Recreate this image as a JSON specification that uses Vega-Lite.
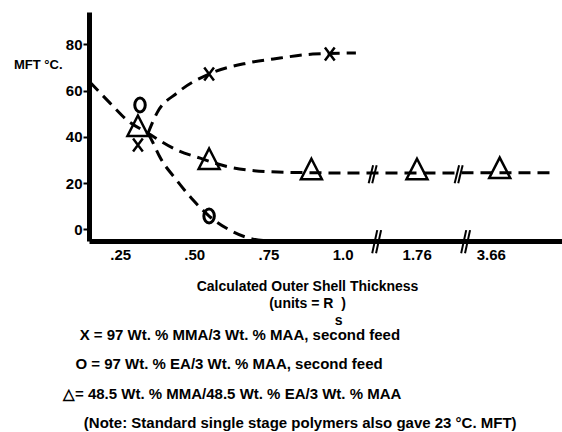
{
  "$schema": "https://vega.github.io/schema/vega-lite/v6.json",
  "width": 473,
  "height": 229,
  "autosize": {"type": "none"},
  "padding": {"left": 89, "top": 12, "right": 0, "bottom": 191},
  "background": "white",
  "config": {"view": {"stroke": null}, "font": "Liberation Sans"},
  "title": {
    "text": [
      "\u200b\u00a0\u00a0\u00a0\u00a0X = 97 Wt. % MMA/3 Wt. % MAA, second feed",
      "\u200b\u00a0\u00a0\u00a0O = 97 Wt. % EA/3 Wt. % MAA, second feed",
      "\u25b3= 48.5 Wt. % MMA/48.5 Wt. % EA/3 Wt. % MAA",
      "\u200b\u00a0\u00a0\u00a0\u00a0\u00a0(Note: Standard single stage polymers also gave 23 \u00b0C. MFT)"
    ],
    "orient": "bottom",
    "anchor": "start",
    "frame": "group",
    "dx": -26,
    "offset": 1,
    "fontSize": 15,
    "fontWeight": "bold",
    "lineHeight": 29.3,
    "color": "black"
  },
  "datasets": {
    "curves": [
      {"series": "tri", "pos": 0.148, "mft": 63.7},
      {"series": "tri", "pos": 0.216, "mft": 54.6},
      {"series": "tri", "pos": 0.273, "mft": 47.3},
      {"series": "tri", "pos": 0.344, "mft": 41.6},
      {"series": "tri", "pos": 0.442, "mft": 34.3},
      {"series": "tri", "pos": 0.52, "mft": 30.8},
      {"series": "tri", "pos": 0.61, "mft": 27.2},
      {"series": "tri", "pos": 0.745, "mft": 25.0},
      {"series": "tri", "pos": 0.9, "mft": 24.5},
      {"series": "tri", "pos": 1.0, "mft": 24.4},
      {"series": "tri", "pos": 1.25, "mft": 24.4},
      {"series": "tri", "pos": 1.5, "mft": 24.5},
      {"series": "tri", "pos": 1.7, "mft": 24.5},
      {"series": "x", "pos": 0.344, "mft": 41.6},
      {"series": "x", "pos": 0.374, "mft": 50.3},
      {"series": "x", "pos": 0.442, "mft": 59.0},
      {"series": "x", "pos": 0.55, "mft": 67.2},
      {"series": "x", "pos": 0.678, "mft": 71.9},
      {"series": "x", "pos": 0.789, "mft": 74.1},
      {"series": "x", "pos": 0.9, "mft": 75.8},
      {"series": "x", "pos": 1.045, "mft": 76.3},
      {"series": "o", "pos": 0.344, "mft": 41.6},
      {"series": "o", "pos": 0.36, "mft": 37.7},
      {"series": "o", "pos": 0.384, "mft": 31.3},
      {"series": "o", "pos": 0.44, "mft": 21.4},
      {"series": "o", "pos": 0.496, "mft": 12.7},
      {"series": "o", "pos": 0.55, "mft": 5.8},
      {"series": "o", "pos": 0.62, "mft": -0.3},
      {"series": "o", "pos": 0.698, "mft": -4.2},
      {"series": "o", "pos": 0.755, "mft": -5.0}
    ],
    "points": [
      {"kind": "x", "pos": 0.31, "mft": 36.5},
      {"kind": "x", "pos": 0.55, "mft": 67.2},
      {"kind": "x", "pos": 0.957, "mft": 75.8},
      {"kind": "o", "pos": 0.317, "mft": 53.8},
      {"kind": "o", "pos": 0.55, "mft": 5.8},
      {"kind": "tri", "pos": 0.31, "mft": 44.5},
      {"kind": "tri", "pos": 0.55, "mft": 30.2},
      {"kind": "tri", "pos": 0.895, "mft": 25.8},
      {"kind": "tri", "pos": 1.251, "mft": 25.8},
      {"kind": "tri", "pos": 1.53, "mft": 26.3}
    ],
    "breaks": [
      {"x1": 1.1, "x2": 1.117, "y1": -10.3, "y2": -0.3},
      {"x1": 1.113, "x2": 1.13, "y1": -10.3, "y2": -0.3},
      {"x1": 1.4, "x2": 1.417, "y1": -10.3, "y2": -0.3},
      {"x1": 1.413, "x2": 1.43, "y1": -10.3, "y2": -0.3},
      {"x1": 1.088, "x2": 1.103, "y1": 20.0, "y2": 27.7},
      {"x1": 1.1, "x2": 1.115, "y1": 20.0, "y2": 27.7},
      {"x1": 1.378, "x2": 1.393, "y1": 20.0, "y2": 27.7},
      {"x1": 1.39, "x2": 1.405, "y1": 20.0, "y2": 27.7}
    ]
  },
  "layer": [
    {
      "data": {"name": "curves"},
      "mark": {"type": "line", "interpolate": "monotone", "color": "black", "strokeWidth": 3, "strokeDash": [12, 7], "clip": false},
      "encoding": {
        "x": {
          "field": "pos", "type": "quantitative",
          "scale": {"domain": [0.145, 1.74], "nice": false, "zero": false},
          "axis": {
            "values": [0.25, 0.5, 0.75, 1, 1.25, 1.5],
            "labelExpr": "datum.value == 0.25 ? '.25' : datum.value == 0.5 ? '.50' : datum.value == 0.75 ? '.75' : datum.value == 1 ? '1.0' : datum.value == 1.25 ? '1.76' : '3.66'",
            "ticks": false, "tickSize": 0, "grid": false,
            "domainColor": "black", "domainWidth": 5,
            "labelFontSize": 15, "labelFontWeight": "bold", "labelColor": "black", "labelPadding": 6,
            "labelFlush": false,
            "title": ["Calculated Outer Shell Thickness", "(units  =  R\u00a0\u00a0)", "\u200b\u00a0\u00a0\u00a0\u00a0\u00a0\u00a0\u00a0\u00a0\u00a0\u00a0\u00a0\u00a0\u00a0\u00a0\u00a0\u00a0s"],
            "titleX": 218, "titleAlign": "center",
            "titleFontSize": 14, "titleFontWeight": "bold", "titleColor": "black",
            "titlePadding": 17, "titleLineHeight": 17
          }
        },
        "y": {
          "field": "mft", "type": "quantitative",
          "scale": {"domain": [-5, 94], "nice": false, "zero": false},
          "axis": {
            "values": [0, 20, 40, 60, 80],
            "grid": false, "tickSize": 6, "tickWidth": 2, "tickColor": "black",
            "domainColor": "black", "domainWidth": 5,
            "labelFontSize": 15, "labelFontWeight": "bold", "labelColor": "black", "labelPadding": 1,
            "title": "MFT \u00b0C.", "titleAngle": 0, "titleAlign": "right", "titleBaseline": "middle",
            "titleX": -27, "titleY": 52, "titleFontSize": 13, "titleFontWeight": "bold", "titleColor": "black"
          }
        },
        "detail": {"field": "series"}
      }
    },
    {
      "data": {"name": "points"},
      "transform": [{"filter": "datum.kind == 'x'"}],
      "mark": {"type": "point", "shape": "M-0.75,-1L0.75,1M0.75,-1L-0.75,1", "filled": false, "stroke": "black", "strokeWidth": 2.5, "size": 169, "opacity": 1},
      "encoding": {
        "x": {"field": "pos", "type": "quantitative"},
        "y": {"field": "mft", "type": "quantitative"}
      }
    },
    {
      "data": {"name": "points"},
      "transform": [{"filter": "datum.kind == 'o'"}],
      "mark": {"type": "point", "shape": "M0,-1A0.75,1,0,1,1,0,1A0.75,1,0,1,1,0,-1Z", "filled": false, "stroke": "black", "strokeWidth": 3, "size": 196, "opacity": 1},
      "encoding": {
        "x": {"field": "pos", "type": "quantitative"},
        "y": {"field": "mft", "type": "quantitative"}
      }
    },
    {
      "data": {"name": "points"},
      "transform": [{"filter": "datum.kind == 'tri'"}],
      "mark": {"type": "point", "shape": "M0,-1.05L1,0.9L-1,0.9Z", "filled": false, "stroke": "black", "strokeWidth": 2.5, "size": 441, "opacity": 1},
      "encoding": {
        "x": {"field": "pos", "type": "quantitative"},
        "y": {"field": "mft", "type": "quantitative"}
      }
    },
    {
      "data": {"name": "breaks"},
      "mark": {"type": "rule", "color": "black", "strokeWidth": 2, "clip": false},
      "encoding": {
        "x": {"field": "x1", "type": "quantitative"},
        "x2": {"field": "x2"},
        "y": {"field": "y1", "type": "quantitative"},
        "y2": {"field": "y2"}
      }
    }
  ]
}
